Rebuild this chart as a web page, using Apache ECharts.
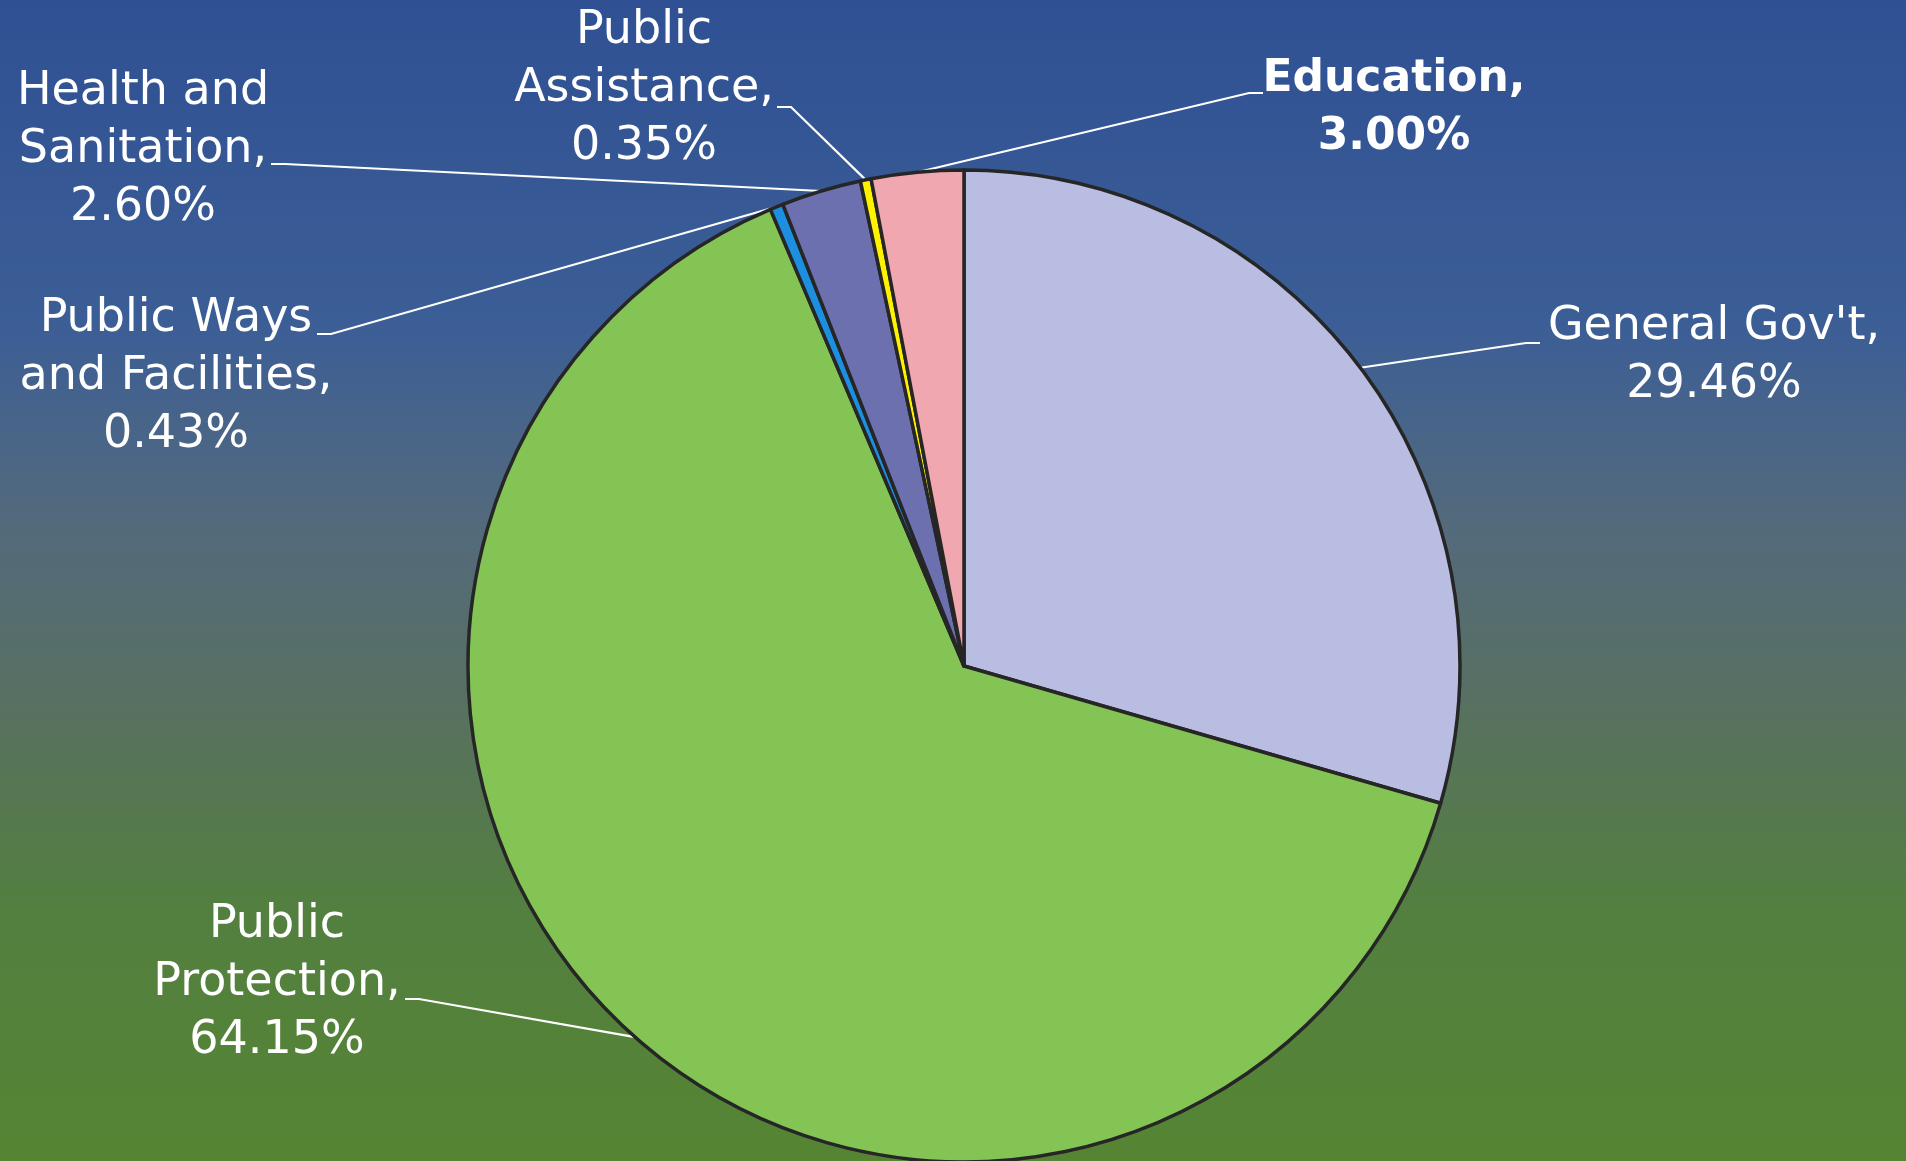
<!DOCTYPE html>
<html>
<head>
<meta charset="utf-8">
<script src="https://cdn.jsdelivr.net/npm/echarts@6/dist/echarts.min.js"></script>
<style>
  html, body { margin: 0; padding: 0; }
  #chart { width: 1906px; height: 1161px; }
</style>
</head>
<body>
<div id="chart"></div>
<script>
// slice names (with line breaks as printed), in clockwise order from 12 o'clock
const categories = [
  "General Gov't",
  'Public\nProtection',
  'Public Ways\nand Facilities',
  'Health and\nSanitation',
  'Public\nAssistance',
  'Education'
];
const shares = [29.46, 64.15, 0.43, 2.60, 0.35, 3.00];
const sliceColors = ['#b9bde2', '#84c455', '#1d8fe1', '#6d70af', '#fff200', '#f0a7b0'];

// where each label block sits (centre, px)
const labelSpots = [
  [1714, 356],
  [277, 983],
  [176, 377],
  [143, 150],
  [644, 89],
  [1394, 109]
];
// where the leader line meets its label (px)
const lineEnds = [
  [1540, 343],
  [405, 999],
  [317, 334],
  [271, 164],
  [777, 107],
  [1263, 93]
];

const chart = echarts.init(document.getElementById('chart'), null, { renderer: 'canvas' });

const option = {
  animation: false,
  backgroundColor: new echarts.graphic.LinearGradient(0, 0, 0, 1, [
    { offset: 0, color: '#2f5093' },
    { offset: 0.28, color: '#3c5e96' },
    { offset: 0.45, color: '#536a7c' },
    { offset: 0.6, color: '#587062' },
    { offset: 0.78, color: '#537f40' },
    { offset: 1, color: '#558533' }
  ]),
  series: [{
    type: 'pie',
    center: [964, 666],
    radius: 496,
    startAngle: 90,
    clockwise: true,
    avoidLabelOverlap: false,
    itemStyle: {
      borderColor: '#262626',
      borderWidth: 3.5
    },
    label: {
      show: true,
      position: 'outside',
      color: '#ffffff',
      fontFamily: 'DejaVu Sans',
      fontSize: 46,
      lineHeight: 58,
      align: 'center',
      formatter: p => p.name + ',\n' + p.value.toFixed(2) + '%'
    },
    labelLine: {
      show: true,
      length: 20,
      length2: 12,
      lineStyle: { color: '#ffffff', width: 2.2 }
    },
    labelLayout: params => {
      const i = params.dataIndex;
      const spot = labelSpots[i];
      const end = lineEnds[i];
      const start = params.labelLinePoints[0];
      const dir = start[0] > end[0] ? 1 : -1;
      const bend = [end[0] + dir * 14, end[1]];
      return {
        x: spot[0], y: spot[1], align: 'center', verticalAlign: 'middle',
        labelLinePoints: [start, bend, end]
      };
    },
    data: categories.map((name, i) => ({
      name: name,
      value: shares[i],
      itemStyle: { color: sliceColors[i] },
      label: name === 'Education' ? { fontWeight: 'bold', fontSize: 44 } : {}
    }))
  }]
};

chart.setOption(option);
window.addEventListener('resize', () => chart.resize());
</script>
</body>
</html>
